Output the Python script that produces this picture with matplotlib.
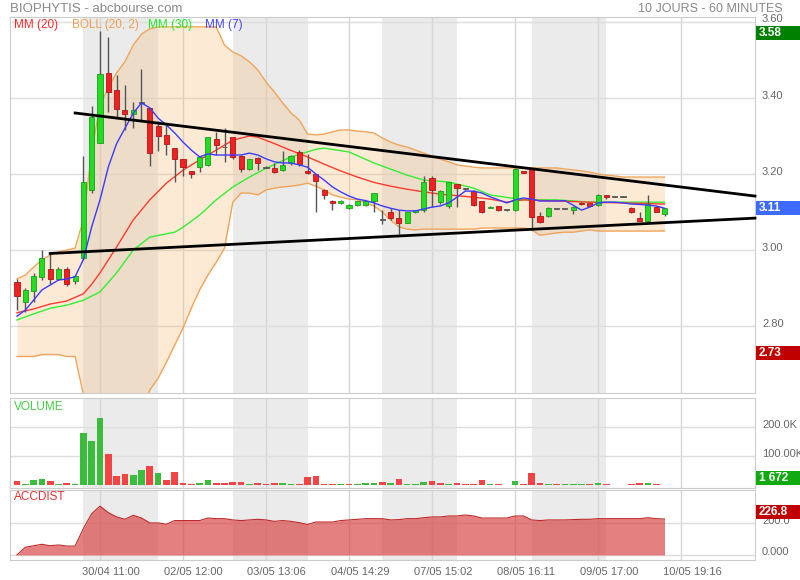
import numpy as np
import matplotlib.pyplot as plt
import matplotlib.transforms as mtransforms
from matplotlib.patches import Rectangle

plt.rcParams['font.family'] = ['Liberation Sans', 'DejaVu Sans']

# hourly bars, index 0 = first bar on screen
opens = [2.917, 2.864, 2.893, 2.930, 2.950, 2.924, 2.950, 2.919, 2.979, 3.158,
         3.282, 3.466, 3.420, 3.368, 3.358, 3.387, 3.373, 3.326, 3.303, 3.268,
         3.240, 3.208, 3.218, 3.224, 3.292, 3.270, 3.297, 3.247, 3.213, 3.242,
         3.217, 3.216, 3.210, 3.230, 3.257, 3.208, 3.200, 3.158, 3.130, 3.123,
         3.110, 3.118, 3.118, 3.130, 3.079, 3.100, 3.084, 3.071, 3.100, 3.105,
         3.189, 3.126, 3.116, 3.174, 3.160, 3.155, 3.129, 3.111, 3.116, 3.105,
         3.105, 3.207, 3.213, 3.089, 3.089, 3.108, 3.108, 3.105, 3.125, 3.123,
         3.118, 3.145, 3.140, 3.140, 3.110, 3.084, 3.077, 3.113, 3.095]
highs = [2.925, 2.900, 2.940, 3.000, 2.990, 2.955, 2.955, 2.935, 3.247, 3.380,
         3.575, 3.560, 3.460, 3.434, 3.390, 3.476, 3.373, 3.340, 3.330, 3.268,
         3.240, 3.208, 3.245, 3.297, 3.310, 3.321, 3.297, 3.250, 3.240, 3.245,
         3.220, 3.230, 3.260, 3.250, 3.263, 3.252, 3.200, 3.160, 3.132, 3.132,
         3.120, 3.130, 3.130, 3.150, 3.105, 3.110, 3.105, 3.100, 3.106, 3.195,
         3.195, 3.158, 3.180, 3.175, 3.162, 3.158, 3.130, 3.115, 3.117, 3.106,
         3.215, 3.208, 3.215, 3.100, 3.112, 3.109, 3.109, 3.115, 3.126, 3.125,
         3.147, 3.146, 3.141, 3.141, 3.112, 3.100, 3.145, 3.115, 3.111]
lows = [2.842, 2.838, 2.864, 2.920, 2.910, 2.920, 2.905, 2.912, 2.975, 3.150,
        3.282, 3.363, 3.350, 3.316, 3.320, 3.342, 3.221, 3.260, 3.250, 3.180,
        3.195, 3.190, 3.205, 3.220, 3.250, 3.232, 3.240, 3.205, 3.210, 3.210,
        3.215, 3.203, 3.208, 3.225, 3.220, 3.200, 3.100, 3.135, 3.105, 3.120,
        3.108, 3.115, 3.115, 3.100, 3.068, 3.080, 3.042, 3.070, 3.098, 3.100,
        3.113, 3.120, 3.110, 3.113, 3.158, 3.115, 3.098, 3.110, 3.104, 3.104,
        3.103, 3.202, 3.053, 3.072, 3.088, 3.107, 3.107, 3.095, 3.118, 3.115,
        3.116, 3.135, 3.139, 3.139, 3.098, 3.076, 3.077, 3.099, 3.090]
closes = [2.880, 2.895, 2.932, 2.979, 2.924, 2.950, 2.910, 2.932, 3.179, 3.351,
          3.463, 3.416, 3.371, 3.358, 3.368, 3.387, 3.255, 3.300, 3.279, 3.240,
          3.218, 3.200, 3.245, 3.297, 3.276, 3.270, 3.245, 3.213, 3.240, 3.229,
          3.217, 3.205, 3.224, 3.247, 3.226, 3.202, 3.182, 3.145, 3.123, 3.130,
          3.118, 3.128, 3.130, 3.150, 3.079, 3.084, 3.071, 3.100, 3.105, 3.179,
          3.158, 3.155, 3.179, 3.163, 3.160, 3.118, 3.100, 3.114, 3.105, 3.105,
          3.213, 3.203, 3.087, 3.074, 3.110, 3.108, 3.108, 3.113, 3.120, 3.117,
          3.145, 3.140, 3.140, 3.140, 3.100, 3.077, 3.121, 3.100, 3.110]

# volume in thousands
volume_k = [13.8, 4.6, 17, 21.8, 15, 3.4, 8, 4.6, 180, 153,
            232, 107, 31, 38, 34.5, 52, 65.5, 42.5, 18, 46,
            6.9, 3.4, 5.7, 16, 8, 5.7, 10, 10, 3.4, 5.7,
            3.4, 6.9, 6.9, 3.4, 3.4, 27.6, 31, 3.4, 3.4, 3.4,
            3.4, 3.4, 6.9, 5.7, 10, 6.9, 19.5, 3.4, 3.4, 10,
            13.8, 5.7, 3.4, 5.7, 3.4, 3.4, 17, 3.4, 3.4, 0.5,
            15, 3.4, 42.5, 6.9, 3.4, 3.4, 2, 3.4, 2, 2,
            6.9, 3.4, 0.5, 0.5, 3.4, 5.7, 8, 3.4, 1.672]

accdist = [0, 48, 58, 67, 58, 63, 56, 56, 167, 260,
           308, 267, 240, 225, 250, 233, 202, 202, 194, 217,
           217, 217, 217, 233, 229, 229, 221, 217, 221, 225,
           221, 212, 217, 212, 204, 192, 208, 208, 208, 217,
           221, 225, 229, 229, 229, 221, 223, 229, 229, 235,
           240, 240, 246, 246, 252, 246, 233, 233, 233, 233,
           246, 246, 221, 217, 221, 221, 221, 223, 225, 225,
           229, 229, 229, 229, 229, 229, 235, 229, 227]

mm7 = [2.826, 2.842, 2.868, 2.895, 2.908, 2.921, 2.924, 2.930, 2.975, 3.061,
       3.132, 3.218, 3.28, 3.32, 3.36, 3.387, 3.374, 3.347, 3.329, 3.308,
       3.284, 3.263, 3.245, 3.253, 3.25, 3.25, 3.25, 3.25, 3.255, 3.25,
       3.24, 3.232, 3.229, 3.229, 3.224, 3.218, 3.2, 3.184, 3.166, 3.153,
       3.142, 3.134, 3.13, 3.124, 3.116, 3.11, 3.105, 3.103, 3.103, 3.108,
       3.113, 3.116, 3.124, 3.139, 3.155, 3.155, 3.15, 3.14, 3.132, 3.124,
       3.132, 3.137, 3.134, 3.129, 3.129, 3.129, 3.13, 3.118, 3.105, 3.113,
       3.124, 3.126, 3.126, 3.124, 3.121, 3.12, 3.118, 3.116, 3.11]

mm20_idx = [0, 2, 4, 6, 8, 9, 10, 12, 14, 16, 18, 20, 22, 24, 26, 28, 29, 31, 33,
            35, 37, 39, 41, 43, 45, 47, 49, 51, 53, 55, 57, 59, 61, 65, 69, 73, 78]
mm20 = [2.835, 2.845, 2.858, 2.866, 2.885, 2.91, 2.94, 3.008, 3.079, 3.132, 3.176,
        3.21, 3.237, 3.263, 3.289, 3.30, 3.297, 3.28, 3.262, 3.245, 3.226, 3.208,
        3.192, 3.178, 3.168, 3.16, 3.153, 3.147, 3.143, 3.139, 3.134, 3.126, 3.132,
        3.129, 3.126, 3.124, 3.121]

mm30_idx = [0, 2, 4, 6, 8, 10, 12, 14, 16, 19, 20, 22, 24, 26, 28, 30, 33, 36, 37,
            40, 43, 47, 49, 52, 55, 57, 61, 65, 69, 78]
mm30 = [2.816, 2.832, 2.847, 2.855, 2.868, 2.89, 2.94, 3.0, 3.034, 3.047, 3.06,
        3.092, 3.132, 3.166, 3.192, 3.215, 3.245, 3.265, 3.268, 3.258, 3.229,
        3.197, 3.184, 3.179, 3.163, 3.145, 3.132, 3.132, 3.126, 3.126]

boll_up = [2.924, 2.934, 2.955, 2.974, 2.987, 2.995, 3.0, 3.005, 3.08, 3.26,
           3.382, 3.426, 3.466, 3.495, 3.539, 3.568, 3.582, 3.587, 3.587, 3.587,
           3.587, 3.587, 3.587, 3.587, 3.587, 3.539, 3.521, 3.511, 3.495, 3.474,
           3.442, 3.416, 3.387, 3.361, 3.342, 3.305, 3.303, 3.305, 3.311, 3.316,
           3.316, 3.313, 3.311, 3.308, 3.295, 3.284, 3.276, 3.271, 3.263, 3.255,
           3.247, 3.239, 3.232, 3.224, 3.221, 3.218, 3.216, 3.216, 3.216, 3.216,
           3.216, 3.216, 3.216, 3.216, 3.216, 3.216, 3.213, 3.211, 3.208, 3.205,
           3.2, 3.197, 3.195, 3.192, 3.192, 3.192, 3.192, 3.192, 3.192]
boll_low = [2.72, 2.72, 2.72, 2.725, 2.725, 2.725, 2.72, 2.72, 2.62,
            2.55, 2.55, 2.55, 2.55, 2.55, 2.55, 2.55,
            2.632, 2.663, 2.705, 2.75, 2.795, 2.847, 2.895, 2.934, 2.968, 3.005,
            3.126, 3.15, 3.15, 3.145, 3.158, 3.163, 3.166, 3.168, 3.171, 3.176,
            3.168, 3.158, 3.145, 3.139, 3.134, 3.132, 3.124, 3.116, 3.1, 3.079,
            3.061, 3.055, 3.053, 3.055, 3.055, 3.055, 3.055, 3.055, 3.055, 3.055,
            3.058, 3.058, 3.058, 3.058, 3.058, 3.058, 3.053, 3.039, 3.042, 3.045,
            3.047, 3.047, 3.05, 3.053, 3.05, 3.05, 3.05, 3.05, 3.05, 3.05, 3.05,
            3.05, 3.05]

# hand-drawn trend lines (bar index, price)
trend_top = ([7, 88.9], [3.3605, 3.142])
trend_bottom = ([4, 88.9], [2.991, 3.084])

day_bands = [(8, 17), (26, 35), (44, 53), (62, 71)]
grid_idx = [10, 20, 30, 40, 50, 60, 70, 80]
date_labels = ['30/04 11:00', '02/05 12:00', '03/05 13:06', '04/05 14:29',
               '07/05 15:02', '08/05 16:11', '09/05 17:00', '10/05 19:16']

for arr in (opens, highs, lows, closes, volume_k, accdist, mm7, boll_up, boll_low):
    assert len(arr) == 79, len(arr)

o = np.array(opens); h = np.array(highs); l = np.array(lows); c = np.array(closes)
x = np.arange(len(c))

W, H = 800, 580
fig = plt.figure(figsize=(8, 5.8), dpi=100)

def box(top, bottom, left=10, right=755):
    return [left / W, 1 - bottom / H, (right - left) / W, (bottom - top) / H]

ax = fig.add_axes(box(17, 393))
axv = fig.add_axes(box(398, 488))
axa = fig.add_axes(box(490, 560))

txt = '#666666'
lift = mtransforms.ScaledTranslation(0, 2.5 / 72, fig.dpi_scale_trans)
for a in (ax, axv, axa):
    a.set_xlim(-0.84, 88.9)
    for s in a.spines.values():
        s.set_color('#cccccc')
    a.yaxis.tick_right()
    a.tick_params(axis='y', length=0, pad=5, labelsize=8, labelcolor=txt)
    a.tick_params(axis='x', length=0)
    for b0, b1 in day_bands:
        a.axvspan(b0, b1, color='#ebebeb', lw=0, zorder=0)
    for g in grid_idx:
        a.axvline(g, color='#d6d6d6', lw=1, zorder=0.5)
    a.grid(axis='y', color='#dddddd', lw=1, zorder=0.5)
    a.set_axisbelow(True)

# price panel
ax.set_ylim(2.624, 3.613)
ax.set_yticks([2.8, 3.0, 3.2, 3.4, 3.6])
ax.set_yticklabels(['2.80', '3.00', '3.20', '3.40', '3.60'])
ax.set_xticks([])

ax.fill_between(x, boll_low, boll_up, color='#f5b66b', alpha=0.28, lw=0, zorder=1)
ax.plot(x, boll_up, color='#f0a55a', lw=1, zorder=1.5)
ax.plot(x, boll_low, color='#f0a55a', lw=1, zorder=1.5)
ax.plot(mm30_idx, mm30, color='#33ee33', lw=1, zorder=2)
ax.plot(mm20_idx, mm20, color='#ff3b2f', lw=1, zorder=2)

ax.vlines(x, l, h, color='#555555', lw=1, zorder=3)
body_col = np.where(c > o, '#22dd22', np.where(c < o, '#ee2222', '#666666'))
edge_col = np.where(c > o, '#1c9c1c', np.where(c < o, '#b01515', '#555555'))
ax.bar(x, np.maximum(np.abs(c - o), 0.002), bottom=np.minimum(o, c), width=0.62,
       color=body_col, edgecolor=edge_col, lw=0.6, zorder=4)
ax.plot(x, mm7, color='#3a3aff', lw=1, zorder=4.5)

ax.plot(*trend_top, color='black', lw=2, zorder=6, clip_on=False)
ax.plot(*trend_bottom, color='black', lw=2, zorder=6, clip_on=False)

# volume panel
prev = np.concatenate([[o[0]], c[:-1]])
vol_col = np.where(c >= prev, '#3cbc3c', '#f24444')
axv.bar(x, np.array(volume_k) * 1000, width=0.8, color=vol_col, lw=0, zorder=2)
axv.set_ylim(-10300, 300000)
axv.set_yticks([100000, 200000])
axv.set_yticklabels(['100.00K', '200.0K'])
axv.set_xticks([])

# accumulation / distribution panel
axa.fill_between(x, 0, accdist, color='#d83c3c', alpha=0.65, lw=0, zorder=2)
axa.plot(x, accdist, color='#c02828', lw=0.8, zorder=2.5)
axa.set_ylim(-32, 410)
axa.set_yticks([0, 200])
axa.set_yticklabels(['0.000', '200.0'])
axa.set_xticks([g + 1.3 for g in grid_idx])
axa.set_xticklabels(date_labels, fontsize=8, color=txt)
axa.tick_params(axis='x', pad=5)

for a in (ax, axv, axa):
    for lab in a.get_yticklabels():
        lab.set_transform(lab.get_transform() + lift)

# headers
fig.text(10 / W, 1 - 9 / H, 'BIOPHYTIS - abcbourse.com', color='#888888',
         fontsize=9.5, va='center')
fig.text(783 / W, 1 - 9 / H, '10 JOURS - 60 MINUTES', color='#888888',
         fontsize=9, va='center', ha='right')
for xp, label, col in [(14, 'MM (20)', '#ff2a2a'), (72, 'BOLL (20, 2)', '#f0a050'),
                       (148, 'MM (30)', '#22ee22'), (205, 'MM (7)', '#4545ff')]:
    fig.text(xp / W, 1 - 25 / H, label, color=col, fontsize=8.5, va='center')
fig.text(14 / W, 1 - 407 / H, 'VOLUME', color='#44cc44', fontsize=8.5, va='center')
fig.text(14 / W, 1 - 497 / H, 'ACCDIST', color='#dd3333', fontsize=8.5, va='center')


def tag(a, value, text, color, dy=0):
    y = a.transData.transform((0, value))[1] + dy
    fig.patches.append(Rectangle((756 / W, (y - 7) / H), 44 / W, 14 / H,
                                 transform=fig.transFigure, facecolor=color,
                                 edgecolor='none', zorder=5))
    fig.text(759 / W, y / H, text, color='white', fontsize=8.5, fontweight='bold',
             va='center', zorder=6)


tag(ax, max(highs), '3.58', '#008000', dy=-1.5)
tag(ax, closes[-1], '3.11', '#3d6bff')
tag(ax, 2.73, '2.73', '#c00000')
tag(axv, volume_k[-1] * 1000, '1 672', '#11aa11', dy=6.5)
tag(axa, accdist[-1], '226.8', '#c00000', dy=7)

fig.savefig('out.png', dpi=100)
